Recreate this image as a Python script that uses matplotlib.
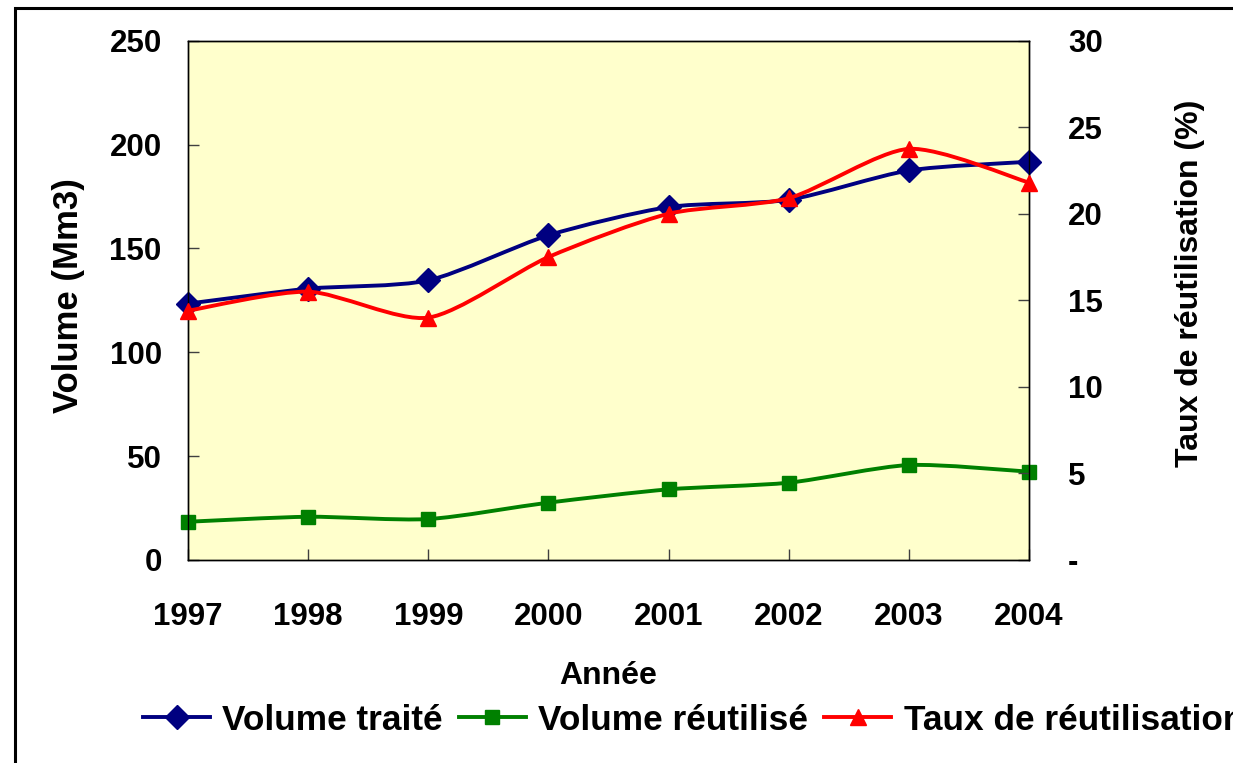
import numpy as np
import matplotlib
matplotlib.use("Agg")
import matplotlib.pyplot as plt
from matplotlib.path import Path
from matplotlib.patches import PathPatch, Rectangle
from matplotlib.lines import Line2D

annees = [1997, 1998, 1999, 2000, 2001, 2002, 2003, 2004]
volume_traite = [123.4, 130.6, 134.6, 156.3, 169.9, 173.4, 187.5, 191.7]
volume_reutilise = [18.4, 20.8, 19.7, 27.6, 34.0, 37.2, 45.7, 42.5]
taux_reutilisation = [14.4, 15.5, 14.0, 17.5, 20.0, 20.9, 23.75, 21.8]

left_ticks = [0, 50, 100, 150, 200, 250]
right_ticks = [0, 5, 10, 15, 20, 25, 30]
right_labels = ["-", "5", "10", "15", "20", "25", "30"]

plt.rcParams["font.family"] = ["Liberation Sans", "DejaVu Sans"]
plt.rcParams["font.weight"] = "bold"

NAVY = "#000080"
GREEN = "#008000"
RED = "#FF0000"


def smooth_path(xs, ys, k=8):
    # courbe lissée façon Excel (Bezier de type Catmull-Rom, tension réduite)
    pts = np.column_stack([xs, ys]).astype(float)
    verts = [pts[0]]
    codes = [Path.MOVETO]
    n = len(pts)
    for i in range(n - 1):
        p0 = pts[i - 1] if i > 0 else pts[i]
        p1 = pts[i]
        p2 = pts[i + 1]
        p3 = pts[i + 2] if i + 2 < n else pts[i + 1]
        c1 = p1 + (p2 - p0) / k
        c2 = p2 - (p3 - p1) / k
        verts += [c1, c2, p2]
        codes += [Path.CURVE4] * 3
    return Path(verts, codes)


fig = plt.figure(figsize=(12.33, 7.63), dpi=100)
ax = fig.add_axes([0.1525, 0.2661, 0.682, 0.6806])
ax2 = ax.twinx()

ax.set_facecolor("#FFFFCC")
ax2.patch.set_visible(False)

lw = 2.8
ax.add_patch(PathPatch(smooth_path(annees, volume_traite), fill=False,
                       edgecolor=NAVY, lw=lw, zorder=3))
ax.plot(annees, volume_traite, ls="none", marker="D", ms=12, color=NAVY,
        zorder=4, clip_on=False)
ax.add_patch(PathPatch(smooth_path(annees, volume_reutilise), fill=False,
                       edgecolor=GREEN, lw=lw, zorder=3))
ax.plot(annees, volume_reutilise, ls="none", marker="s", ms=9.5, color=GREEN,
        zorder=4, clip_on=False)
ax2.add_patch(PathPatch(smooth_path(annees, taux_reutilisation), fill=False,
                        edgecolor=RED, lw=lw, zorder=3))
ax2.plot(annees, taux_reutilisation, ls="none", marker="^", ms=11, color=RED,
         zorder=4, clip_on=False)

ax.set_xlim(1997, 2004)
ax.set_ylim(0, 250)
ax2.set_ylim(0, 30)
ax.set_xticks(annees)
ax.set_xticklabels([str(a) for a in annees])
ax.set_yticks(left_ticks)
ax2.set_yticks(right_ticks)
ax2.set_yticklabels(right_labels, ha="left")

ax.tick_params(axis="x", direction="in", length=8, width=1, color="#404040",
               labelsize=22.5, pad=30)
ax.tick_params(axis="y", direction="in", length=8, width=1, color="#404040",
               labelsize=22.5, pad=19)
ax2.tick_params(axis="y", direction="in", length=8, width=1, color="#404040",
                labelsize=22.5, pad=28)

for a in (ax, ax2):
    for s in a.spines.values():
        s.set_color("black")
        s.set_linewidth(1)

ax.set_xlabel("Année", fontsize=23, fontweight="bold", labelpad=21)
ax.set_ylabel("Volume (Mm3)", fontsize=25, fontweight="bold")
ax.yaxis.set_label_coords(-0.1225, 0.51)
ax2.set_ylabel("Taux de réutilisation (%)", fontsize=23, fontweight="bold")
ax2.yaxis.set_label_coords(1.1736, 0.533)

handles = [
    Line2D([], [], color=NAVY, lw=lw, marker="D", ms=12),
    Line2D([], [], color=GREEN, lw=lw, marker="s", ms=9.5),
    Line2D([], [], color=RED, lw=lw, marker="^", ms=11),
]
labels = ["Volume traité", "Volume réutilisé", "Taux de réutilisation"]
fig.legend(handles, labels, loc="center left",
           bbox_to_anchor=(143 / 1233, 1 - 720 / 763), ncol=3, frameon=False,
           borderpad=0, borderaxespad=0, numpoints=1, handlelength=1.9,
           handletextpad=0.35, columnspacing=0.45,
           prop={"size": 25.4, "weight": "bold"})

# cadre noir du graphique (coupé à droite et en bas)
fig.patches.append(Rectangle((14.5 / 1233, -0.2), 1.5, 1.2 - 7.5 / 763,
                             transform=fig.transFigure, fill=False,
                             edgecolor="black", lw=2.2))

fig.savefig("out.png", dpi=100)
